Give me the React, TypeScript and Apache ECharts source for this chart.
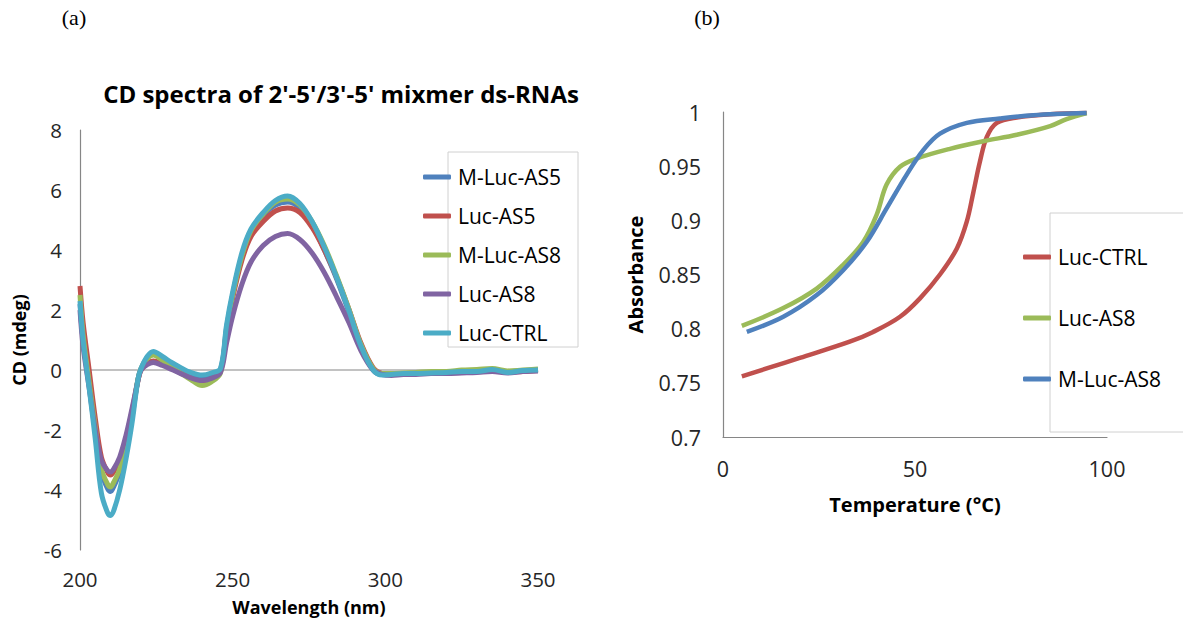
import React, { useEffect, useRef } from "react";
import * as echarts from "echarts";

// ---------- Panel (a): CD spectra ----------
const wavelengths = [200, 201, 203, 205, 207, 209, 210, 211, 213, 215, 217, 219, 220, 222, 224, 227, 230, 233, 236, 240, 243, 246, 248, 250, 253, 256, 260, 264, 268, 272, 276, 280, 284, 288, 292, 296, 299, 302, 306, 310, 315, 320, 325, 330, 335, 340, 345, 350];

const cdMLucAS5 = [2.2, 1.0, -0.5, -2.0, -3.4, -3.95, -4.05, -3.9, -3.4, -2.6, -1.6, -0.3, 0.05, 0.42, 0.58, 0.42, 0.22, 0.05, -0.12, -0.28, -0.2, 0.0, 1.4, 2.5, 3.8, 4.6, 5.15, 5.5, 5.6, 5.4, 4.85, 4.0, 3.05, 1.95, 0.8, 0.0, -0.15, -0.15, -0.12, -0.1, -0.1, -0.07, -0.05, -0.03, 0.0, -0.06, -0.02, 0.02];
const cdLucAS5 = [2.8, 1.6, 0.0, -1.6, -2.9, -3.4, -3.5, -3.4, -3.0, -2.3, -1.4, -0.35, 0.0, 0.22, 0.3, 0.2, 0.05, -0.1, -0.25, -0.4, -0.3, -0.05, 1.3, 2.4, 3.65, 4.45, 4.95, 5.3, 5.4, 5.25, 4.75, 4.0, 3.1, 2.05, 0.9, 0.08, -0.12, -0.15, -0.15, -0.12, -0.12, -0.1, -0.08, -0.06, -0.03, -0.08, -0.05, -0.02];
const cdMLucAS8 = [2.5, 1.2, -0.4, -1.9, -3.3, -3.8, -3.9, -3.75, -3.3, -2.5, -1.5, -0.3, 0.05, 0.38, 0.5, 0.32, 0.1, -0.1, -0.3, -0.52, -0.4, -0.1, 1.3, 2.5, 3.8, 4.65, 5.2, 5.6, 5.7, 5.5, 4.95, 4.15, 3.15, 2.05, 0.85, 0.05, -0.12, -0.12, -0.1, -0.08, -0.05, -0.05, 0.0, 0.02, 0.05, -0.03, 0.0, 0.03];
const cdLucAS8 = [2.0, 0.8, -0.6, -2.0, -3.0, -3.35, -3.4, -3.3, -2.9, -2.2, -1.3, -0.35, 0.0, 0.18, 0.25, 0.15, 0.02, -0.12, -0.25, -0.35, -0.28, -0.08, 0.9, 1.8, 2.85, 3.6, 4.15, 4.45, 4.55, 4.35, 3.9, 3.25, 2.45, 1.6, 0.65, 0.0, -0.15, -0.18, -0.15, -0.15, -0.12, -0.12, -0.1, -0.08, -0.05, -0.1, -0.05, -0.03];
const cdLucCTRL = [2.3, 1.0, -0.6, -2.3, -4.1, -4.75, -4.85, -4.7, -4.0, -3.0, -1.8, -0.3, 0.05, 0.45, 0.62, 0.45, 0.25, 0.08, -0.07, -0.17, -0.1, 0.05, 1.5, 2.6, 3.9, 4.7, 5.25, 5.65, 5.8, 5.55, 4.95, 4.1, 3.1, 2.0, 0.8, 0.0, -0.17, -0.15, -0.12, -0.12, -0.1, -0.08, -0.05, -0.05, 0.02, -0.08, -0.02, 0.0];

const cdNames = ["M-Luc-AS5", "Luc-AS5", "M-Luc-AS8", "Luc-AS8", "Luc-CTRL"];
const cdValues = [cdMLucAS5, cdLucAS5, cdMLucAS8, cdLucAS8, cdLucCTRL];
const cdColors = ["#4F81BD", "#C0504D", "#9BBB59", "#8064A2", "#4BACC6"];

// ---------- Panel (b): melting curves ----------
const tempLucCTRL = [4.9, 12, 20, 33, 39.1, 46.1, 51.3, 56.5, 60.9, 63.5, 65.2, 66.9, 68.7, 71.3, 76.5, 85.2, 94.7];
const absLucCTRL = [0.756, 0.764, 0.773, 0.788, 0.797, 0.811, 0.828, 0.85, 0.874, 0.899, 0.926, 0.954, 0.977, 0.99, 0.995, 0.998, 0.999];
const tempLucAS8 = [4.9, 15.7, 24.4, 31.3, 36.5, 40, 42.6, 46.1, 50.4, 59.1, 67.8, 76.5, 85.2, 89.5, 94.7];
const absLucAS8 = [0.8025, 0.819, 0.837, 0.859, 0.88, 0.905, 0.933, 0.9495, 0.957, 0.966, 0.973, 0.979, 0.987, 0.9935, 0.999];
const tempMLucAS8 = [6.2, 15.7, 24.4, 31.3, 37.4, 42.6, 47.8, 52.2, 56.5, 63.5, 72.1, 80.8, 94.7];
const absMLucAS8 = [0.797, 0.811, 0.831, 0.854, 0.88, 0.911, 0.942, 0.965, 0.98, 0.99, 0.994, 0.997, 0.999];

const tmNames = ["Luc-CTRL", "Luc-AS8", "M-Luc-AS8"];
const tmTemps = [tempLucCTRL, tempLucAS8, tempMLucAS8];
const tmValues = [absLucCTRL, absLucAS8, absMLucAS8];
const tmColors = ["#C0504D", "#9BBB59", "#4F81BD"];

const FONT = "Open Sans";
const AXIS_GREY = "#868686";

export default function App() {
  const ref = useRef<HTMLDivElement>(null);

  useEffect(() => {
    const chart = echarts.init(ref.current!, null, { renderer: "svg" });

    const labelA = { fontFamily: FONT, fontSize: 20.5, color: "#262626" };
    const labelB = { fontFamily: FONT, fontSize: 21.5, color: "#262626" };
    const nameA = { fontFamily: FONT, fontSize: 18, fontWeight: "bold" as const, color: "#000" };
    const nameB = { fontFamily: FONT, fontSize: 20, fontWeight: "bold" as const, color: "#000" };

    const series: any[] = [
      {
        name: "__zero",
        type: "line",
        xAxisIndex: 0,
        yAxisIndex: 0,
        data: [[200, 0], [350, 0]],
        symbol: "none",
        silent: true,
        lineStyle: { color: AXIS_GREY, width: 1.2 },
        z: 1,
      },
    ];
    cdNames.forEach((n, i) => {
      series.push({
        name: "a:" + n,
        type: "line",
        xAxisIndex: 0,
        yAxisIndex: 0,
        data: wavelengths.map((w, k) => [w, cdValues[i][k]]),
        smooth: 0.35,
        symbol: "none",
        lineStyle: { color: cdColors[i], width: 5 },
        itemStyle: { color: cdColors[i] },
        z: 2 + i,
      });
    });
    tmNames.forEach((n, i) => {
      series.push({
        name: "b:" + n,
        type: "line",
        xAxisIndex: 1,
        yAxisIndex: 1,
        data: tmTemps[i].map((t, k) => [t, tmValues[i][k]]),
        smooth: 0.35,
        symbol: "none",
        lineStyle: { color: tmColors[i], width: 4.5 },
        itemStyle: { color: tmColors[i] },
        z: 2 + i,
      });
    });

    const strip = (name: string) => name.replace(/^[ab]:/, "");

    chart.setOption({
      animation: false,
      backgroundColor: "#ffffff",
      grid: [
        { left: 80, top: 130, width: 458, height: 420 },
        { left: 723, top: 112, width: 384, height: 325 },
      ],
      xAxis: [
        {
          gridIndex: 0,
          type: "value",
          min: 200,
          max: 350,
          interval: 50,
          axisLine: { show: false, onZero: false },
          axisTick: { show: false },
          splitLine: { show: false },
          axisLabel: { ...labelA, margin: 18 },
          name: "Wavelength (nm)",
          nameLocation: "middle",
          nameGap: 48,
          nameTextStyle: nameA,
        },
        {
          gridIndex: 1,
          type: "value",
          min: 0,
          max: 100,
          interval: 50,
          axisLine: { show: true, onZero: false, lineStyle: { color: AXIS_GREY, width: 1.2 } },
          axisTick: { show: false },
          splitLine: { show: false },
          axisLabel: { ...labelB, margin: 20 },
          name: "Temperature (°C)",
          nameLocation: "middle",
          nameGap: 57,
          nameTextStyle: nameB,
        },
      ],
      yAxis: [
        {
          gridIndex: 0,
          type: "value",
          min: -6,
          max: 8,
          interval: 2,
          axisLine: { show: true, onZero: false, lineStyle: { color: AXIS_GREY, width: 1.2 } },
          axisTick: { show: false },
          splitLine: { show: false },
          axisLabel: { ...labelA, margin: 18 },
          name: "CD (mdeg)",
          nameLocation: "middle",
          nameGap: 52,
          nameRotate: 90,
          nameTextStyle: nameA,
        },
        {
          gridIndex: 1,
          type: "value",
          min: 0.7,
          max: 1,
          interval: 0.05,
          axisLine: { show: true, onZero: false, lineStyle: { color: AXIS_GREY, width: 1.2 } },
          axisTick: { show: false },
          splitLine: { show: false },
          axisLabel: { ...labelB, margin: 22 },
          name: "Absorbance",
          nameLocation: "middle",
          nameGap: 78,
          nameRotate: 90,
          nameTextStyle: nameB,
        },
      ],
      legend: [
        {
          orient: "vertical",
          left: 418,
          top: 160,
          data: cdNames.map((n) => "a:" + n),
          formatter: strip,
          icon: "roundRect",
          itemWidth: 28,
          itemHeight: 5,
          itemGap: 15,
          selectedMode: false,
          textStyle: { fontFamily: FONT, fontSize: 21, color: "#000", lineHeight: 24, padding: [0, 0, 0, 2] },
        },
        {
          orient: "vertical",
          left: 1018,
          top: 240,
          data: tmNames.map((n) => "b:" + n),
          formatter: strip,
          icon: "roundRect",
          itemWidth: 28,
          itemHeight: 5,
          itemGap: 37,
          selectedMode: false,
          textStyle: { fontFamily: FONT, fontSize: 21, color: "#000", lineHeight: 24, padding: [0, 0, 0, 2] },
        },
      ],
      graphic: [
        {
          type: "rect",
          shape: { x: 448, y: 152, width: 130, height: 195 },
          style: { fill: "none", stroke: "#d0d0d0", lineWidth: 1 },
          z: 0,
        },
        {
          type: "rect",
          shape: { x: 1050, y: 213, width: 150, height: 219 },
          style: { fill: "none", stroke: "#d0d0d0", lineWidth: 1 },
          z: 0,
        },
        {
          type: "text",
          x: 341,
          y: 93,
          style: {
            text: "CD spectra of 2'-5'/3'-5' mixmer ds-RNAs",
            fontFamily: FONT,
            fontSize: 24,
            fontWeight: "bold",
            fill: "#000",
            align: "center",
            verticalAlign: "middle",
          },
        },
        {
          type: "text",
          x: 74,
          y: 17,
          style: { text: "(a)", fontFamily: "Liberation Serif", fontSize: 22, fill: "#000", align: "center", verticalAlign: "middle" },
        },
        {
          type: "text",
          x: 707,
          y: 17,
          style: { text: "(b)", fontFamily: "Liberation Serif", fontSize: 22, fill: "#000", align: "center", verticalAlign: "middle" },
        },
      ],
      series,
    });

    return () => chart.dispose();
  }, []);

  return <div ref={ref} style={{ position: "fixed", left: 0, top: 0, width: 1183, height: 632 }} />;
}
